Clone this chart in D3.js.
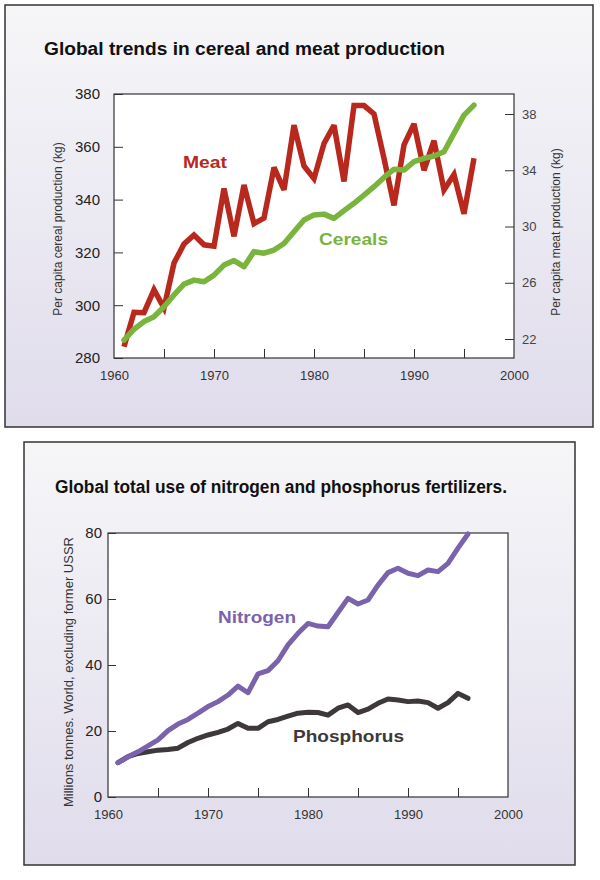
<!DOCTYPE html>
<html><head><meta charset="utf-8">
<script src="https://cdn.jsdelivr.net/npm/d3@7"></script>
<style>
html,body{margin:0;padding:0;background:#fff;}
svg{display:block;}
</style></head>
<body>
<script>
// ---- Data ----
const years = d3.range(1961, 1997);
const meat = [21.45,23.9,23.87,25.5,24.2,27.4,28.75,29.4,28.7,28.6,32.7,29.3,32.95,30.2,30.6,34.2,32.6,37.2,34.3,33.4,35.9,37.2,33.2,38.6,38.6,38.0,34.85,31.5,35.8,37.3,34.0,36.1,32.6,33.7,30.9,34.85];
const cereals = [286.8,290.9,293.8,295.6,299.4,303.9,308.0,309.5,308.9,311.4,315.2,316.9,314.6,320.3,319.7,320.9,323.4,327.8,332.3,334.2,334.5,332.9,335.8,338.6,341.7,344.9,348.4,351.5,351.2,354.4,355.6,356.5,358.1,365.1,372.0,375.8];
const nitrogen = [10.4,12.2,13.7,15.5,17.3,20.1,22.1,23.5,25.4,27.4,28.9,30.9,33.6,31.6,37.3,38.3,41.3,46.1,49.6,52.6,51.8,51.6,55.9,60.2,58.5,59.7,64.2,68.0,69.3,67.8,67.1,68.8,68.3,70.8,75.4,79.7];
const phosphorus = [10.4,12.2,13.2,13.7,14.2,14.4,14.8,16.5,17.8,18.8,19.6,20.6,22.3,20.8,20.8,22.8,23.5,24.5,25.4,25.7,25.6,24.8,26.9,27.9,25.6,26.6,28.4,29.7,29.4,28.9,29.1,28.6,26.9,28.6,31.4,29.9];
const xTickLabels = [1960, 1970, 1980, 1990, 2000];
const xMinorTicks = [1965, 1970, 1975, 1980, 1985, 1990, 1995];
const cerealTicks = [280, 300, 320, 340, 360, 380];
const meatTicks = [22, 26, 30, 34, 38];
const fertTicks = [0, 20, 40, 60, 80];

const svg = d3.select("body").append("svg").attr("width", 600).attr("height", 880);
const defs = svg.append("defs");
const grad = defs.append("linearGradient").attr("id","bg").attr("x1",0).attr("y1",0).attr("x2",0).attr("y2",1);
grad.append("stop").attr("offset","0%").attr("stop-color","#f6f6f8");
grad.append("stop").attr("offset","100%").attr("stop-color","#e0dcec");

const narrow = "'Liberation Sans Narrow','Arial Narrow','Liberation Sans',Arial,sans-serif";
const sans = "'Liberation Sans',Arial,Helvetica,sans-serif";

// ---- Panel 1 ----
svg.append("rect").attr("x",5).attr("y",5).attr("width",588).attr("height",422)
  .attr("fill","url(#bg)").attr("stroke","#333").attr("stroke-width",1.5);
svg.append("text").attr("x",44).attr("y",55).text("Global trends in cereal and meat production")
  .attr("font-family",sans).attr("font-weight","bold").attr("font-size",18)
  .attr("textLength",401).attr("lengthAdjust","spacingAndGlyphs").attr("fill","#111");

const p1 = {l:114, r:514, t:94, b:358};
const x1 = d3.scaleLinear().domain([1960,2000]).range([p1.l,p1.r]);
const yC = d3.scaleLinear().domain([280,380]).range([p1.b,p1.t]);
const yM = d3.scaleLinear().domain([22,38]).range([339,114]);

svg.append("rect").attr("x",p1.l).attr("y",p1.t).attr("width",p1.r-p1.l).attr("height",p1.b-p1.t)
  .attr("fill","#fff").attr("stroke","#333").attr("stroke-width",1.2);

// bottom axis
const gx1 = svg.append("g").attr("transform",`translate(0,${p1.b})`)
  .call(d3.axisTop(x1).tickValues(xMinorTicks).tickSize(9).tickFormat(""));
gx1.select(".domain").remove();
gx1.selectAll("line").attr("stroke","#333");
const gx1l = svg.append("g").attr("transform",`translate(0,${p1.b})`)
  .call(d3.axisBottom(x1).tickValues(xTickLabels).tickSize(0).tickPadding(13).tickFormat(d3.format("d")));
gx1l.select(".domain").remove();
gx1l.selectAll("text").attr("font-family",narrow).attr("font-size",13).attr("fill","#333");

// left axis
const gy1 = svg.append("g").attr("transform",`translate(${p1.l},0)`)
  .call(d3.axisRight(yC).tickValues(cerealTicks).tickSize(9).tickFormat(""));
gy1.select(".domain").remove();
gy1.selectAll("line").attr("stroke","#333");
const gy1l = svg.append("g").attr("transform",`translate(${p1.l},0)`)
  .call(d3.axisLeft(yC).tickValues(cerealTicks).tickSize(0).tickPadding(14));
gy1l.select(".domain").remove();
gy1l.selectAll("text").attr("font-family",narrow).attr("font-size",15).attr("fill","#222");

// right axis
const gy2 = svg.append("g").attr("transform",`translate(${p1.r},0)`)
  .call(d3.axisLeft(yM).tickValues(meatTicks).tickSize(9).tickFormat(""));
gy2.select(".domain").remove();
gy2.selectAll("line").attr("stroke","#333");
const gy2l = svg.append("g").attr("transform",`translate(${p1.r},0)`)
  .call(d3.axisRight(yM).tickValues(meatTicks).tickSize(0).tickPadding(8));
gy2l.select(".domain").remove();
gy2l.selectAll("text").attr("font-family",narrow).attr("font-size",13).attr("fill","#444");

svg.append("text").attr("transform","translate(62,229) rotate(-90)").attr("text-anchor","middle")
  .attr("font-family",sans).attr("font-size",12).attr("fill","#333").text("Per capita cereal production (kg)");
svg.append("text").attr("transform","translate(560,232) rotate(-90)").attr("text-anchor","middle")
  .attr("font-family",sans).attr("font-size",12).attr("fill","#333").text("Per capita meat production (kg)");

const lineM = d3.line().x((d,i)=>x1(years[i])).y(d=>yM(d));
const lineC = d3.line().x((d,i)=>x1(years[i])).y(d=>yC(d));
svg.append("path").datum(meat).attr("d",lineM).attr("fill","none").attr("stroke","#b9281d")
  .attr("stroke-width",5.5).attr("stroke-linejoin","miter").attr("stroke-miterlimit",3);
svg.append("path").datum(cereals).attr("d",lineC).attr("fill","none").attr("stroke","#79b43d")
  .attr("stroke-width",5.5).attr("stroke-linejoin","round").attr("stroke-linecap","round");

svg.append("text").attr("x",183).attr("y",168).text("Meat").attr("font-family",sans)
  .attr("font-weight","bold").attr("font-size",17).attr("textLength",44).attr("lengthAdjust","spacingAndGlyphs").attr("fill","#b9281d");
svg.append("text").attr("x",319).attr("y",245).text("Cereals").attr("font-family",sans)
  .attr("font-weight","bold").attr("font-size",17).attr("textLength",69).attr("lengthAdjust","spacingAndGlyphs").attr("fill","#79b43d");

// ---- Panel 2 ----
svg.append("rect").attr("x",24).attr("y",442).attr("width",551).attr("height",423)
  .attr("fill","url(#bg)").attr("stroke","#333").attr("stroke-width",1.5);
svg.append("text").attr("x",55).attr("y",493).text("Global total use of nitrogen and phosphorus fertilizers.")
  .attr("font-family",narrow).attr("font-weight","bold").attr("font-size",18)
  .attr("textLength",452).attr("lengthAdjust","spacingAndGlyphs").attr("fill","#111");

const p2 = {l:108, r:508, t:533, b:797};
const x2 = d3.scaleLinear().domain([1960,2000]).range([p2.l,p2.r]);
const yF = d3.scaleLinear().domain([0,80]).range([p2.b,p2.t]);

svg.append("rect").attr("x",p2.l).attr("y",p2.t).attr("width",p2.r-p2.l).attr("height",p2.b-p2.t)
  .attr("fill","#fff").attr("stroke","#333").attr("stroke-width",1.2);

const gx2 = svg.append("g").attr("transform",`translate(0,${p2.b})`)
  .call(d3.axisTop(x2).tickValues(xMinorTicks).tickSize(9).tickFormat(""));
gx2.select(".domain").remove();
gx2.selectAll("line").attr("stroke","#333");
const gx2l = svg.append("g").attr("transform",`translate(0,${p2.b})`)
  .call(d3.axisBottom(x2).tickValues(xTickLabels).tickSize(0).tickPadding(13).tickFormat(d3.format("d")));
gx2l.select(".domain").remove();
gx2l.selectAll("text").attr("font-family",narrow).attr("font-size",13).attr("fill","#333");

const gy3 = svg.append("g").attr("transform",`translate(${p2.l},0)`)
  .call(d3.axisRight(yF).tickValues(fertTicks).tickSize(8).tickFormat(""));
gy3.select(".domain").remove();
gy3.selectAll("line").attr("stroke","#333");
const gy3l = svg.append("g").attr("transform",`translate(${p2.l},0)`)
  .call(d3.axisLeft(yF).tickValues(fertTicks).tickSize(0).tickPadding(6));
gy3l.select(".domain").remove();
gy3l.selectAll("text").attr("font-family",narrow).attr("font-size",15).attr("fill","#222");

svg.append("text").attr("transform","translate(73,672) rotate(-90)").attr("text-anchor","middle")
  .attr("font-family",narrow).attr("font-size",13).attr("fill","#333").text("Millions tonnes. World, excluding former USSR");

const lineN = d3.line().x((d,i)=>x2(years[i])).y(d=>yF(d));
svg.append("path").datum(phosphorus).attr("d",lineN).attr("fill","none").attr("stroke","#3d393a")
  .attr("stroke-width",5).attr("stroke-linejoin","round").attr("stroke-linecap","round");
svg.append("path").datum(nitrogen).attr("d",lineN).attr("fill","none").attr("stroke","#7a63ab")
  .attr("stroke-width",5).attr("stroke-linejoin","round").attr("stroke-linecap","round");

svg.append("text").attr("x",218).attr("y",623).text("Nitrogen").attr("font-family",sans)
  .attr("font-weight","bold").attr("font-size",17).attr("textLength",78).attr("lengthAdjust","spacingAndGlyphs").attr("fill","#7a63ab");
svg.append("text").attr("x",293).attr("y",742).text("Phosphorus").attr("font-family",sans)
  .attr("font-weight","bold").attr("font-size",17).attr("textLength",111).attr("lengthAdjust","spacingAndGlyphs").attr("fill","#3d393a");
</script>
</body></html>
